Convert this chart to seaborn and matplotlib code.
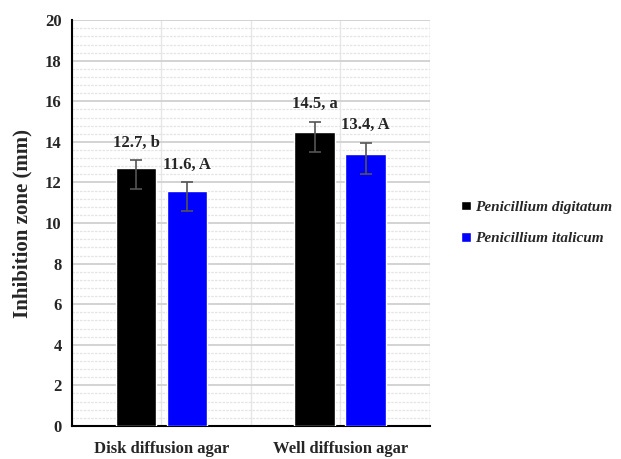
import matplotlib
matplotlib.use("Agg")
import matplotlib.pyplot as plt
import seaborn as sns
import pandas as pd
import numpy as np
from matplotlib.ticker import MultipleLocator

# values
methods = ["Disk diffusion agar", "Well diffusion agar"]
species = ["Penicillium digitatum", "Penicillium italicum"]
digitatum = [12.7, 14.5]
italicum = [11.6, 13.4]
err_low_dig = [1.0, 1.0]
err_up_dig = [0.4, 0.5]
err_low_ita = [1.0, 1.0]
err_up_ita = [0.4, 0.55]
letters_dig = ["b", "a"]
letters_ita = ["A", "A"]

df = pd.DataFrame({
    "method": methods * 2,
    "species": [species[0]] * 2 + [species[1]] * 2,
    "zone": digitatum + italicum,
})

sns.set_style("white")
plt.rcParams["font.family"] = ["Liberation Serif", "DejaVu Serif"]
plt.rcParams["font.weight"] = "bold"

fig = plt.figure(figsize=(6.21, 4.59), dpi=100)
ax = fig.add_axes([0.116, 0.072, 0.576, 0.884])

sns.barplot(data=df, x="method", y="zone", hue="species",
            palette=["#000000", "#0000ff"], saturation=1, errorbar=None,
            width=0.57, gap=0.2, ax=ax, zorder=3)

# error bars + labels per bar
errs = [(err_low_dig, err_up_dig, letters_dig, digitatum),
        (err_low_ita, err_up_ita, letters_ita, italicum)]
for cont, (lo, up, let, vals) in zip(ax.containers, errs):
    xs = [p.get_x() + p.get_width() / 2 for p in cont.patches]
    ax.errorbar(xs, vals, yerr=[lo, up], fmt="none", ecolor="#555555",
                elinewidth=1.2, capsize=4, capthick=1.2, zorder=4)
    for x, v, u, l in zip(xs, vals, up, let):
        ax.annotate(f"{v}, {l}", (x, v + u), xytext=(0, 7),
                    textcoords="offset points", ha="center", va="bottom",
                    fontsize=12, fontweight="bold")

ax.set_xlim(-0.5, 1.5)
ax.set_ylim(0, 20)
ax.yaxis.set_major_locator(MultipleLocator(2))
ax.yaxis.set_minor_locator(MultipleLocator(0.4))
ax.xaxis.set_minor_locator(MultipleLocator(0.5))
ax.grid(which="major", axis="y", color="#d0d0d0", linewidth=1.3, zorder=0)
ax.grid(which="minor", axis="y", color="#e4e4e4", linewidth=0.9,
        linestyle=(0, (2, 1)), zorder=0)
ax.grid(which="both", axis="x", color="#e6e6e6", linewidth=1.0, zorder=0)
ax.set_axisbelow(True)

for s in ["top", "right"]:
    ax.spines[s].set_visible(False)
for s in ["left", "bottom"]:
    ax.spines[s].set_color("black")
    ax.spines[s].set_linewidth(1.5)
ax.axvline(1.5, color="#e6e6e6", linewidth=1.0, zorder=0)

ax.tick_params(axis="both", which="major", direction="out", length=4,
               width=1.2, color="black", labelsize=12)
ax.tick_params(axis="x", which="minor", length=0)
ax.tick_params(axis="x", pad=7)
ax.tick_params(axis="y", which="minor", length=0)
for t in ax.get_xticklabels() + ax.get_yticklabels():
    t.set_fontweight("bold")

ax.set_xlabel("")
ax.set_ylabel("Inhibition zone (mm)", fontsize=15, fontweight="bold", labelpad=9)

leg = ax.legend(loc="center left", bbox_to_anchor=(1.05, 0.5), frameon=False,
                handlelength=0.6, handleheight=0.6, handletextpad=0.3,
                labelspacing=1.2, prop={"size": 11, "weight": "bold", "style": "italic"})

fig.savefig("out.png", dpi=100)
